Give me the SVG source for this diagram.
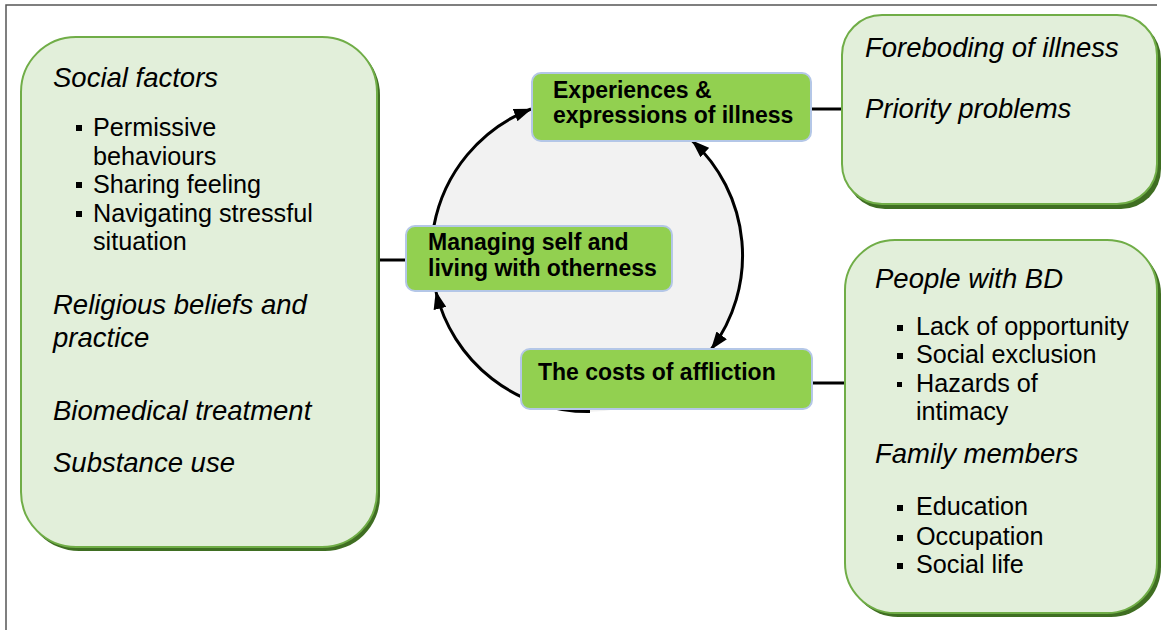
<svg xmlns="http://www.w3.org/2000/svg" width="1161" height="630" viewBox="0 0 1161 630">
<style>
.big{fill:#e2efda;stroke:#70ad47;stroke-width:2}
.shadow{fill:#3f6e22}
.node{fill:#92d050;stroke:#b4c7e7;stroke-width:2}
.hd{font-family:"Liberation Sans",Arial,sans-serif;font-style:italic;font-size:27.5px;fill:#000}
.it{font-family:"Liberation Sans",Arial,sans-serif;font-size:25.2px;fill:#000}
.bd{font-family:"Liberation Sans",Arial,sans-serif;font-weight:bold;font-size:23px;fill:#000}
.bul{fill:#000}
.link{stroke:#000;stroke-width:3;fill:none}
.arc{stroke:#000;stroke-width:3;fill:none}
</style>
<defs>
<marker id="ah" viewBox="0 0 18 13" refX="17" refY="6.5" markerWidth="18" markerHeight="13" markerUnits="userSpaceOnUse" orient="auto-start-reverse">
<path d="M0,0 L18,6.5 L0,13 Z" fill="#000"/>
</marker>
</defs>
<rect width="1161" height="630" fill="#fff"/>
<path d="M6,630 L6,5 L1157,5" fill="none" stroke="#555" stroke-width="1.5"/>

<g id="cycle">
<circle cx="587" cy="256" r="156" fill="#f2f2f2"/>
</g>

<g id="connectors">
<line class="link" x1="377" y1="260" x2="406" y2="260"/>
<line class="link" x1="811" y1="109" x2="842" y2="109"/>
<line class="link" x1="812" y1="383" x2="845" y2="383"/>
<path class="arc" d="M433.9,226 A156,156 0 0,1 531,109" marker-end="url(#ah)"/>
<path class="arc" d="M692.4,141 A156,156 0 0,1 711.5,349" marker-start="url(#ah)" marker-end="url(#ah)"/>
<path class="arc" d="M590,411.5 A156,156 0 0,1 436,292" marker-end="url(#ah)"/>
</g>

<g id="left-box">
<rect class="shadow" x="24" y="40" width="356" height="511" rx="55"/>
<rect class="big" x="21" y="37" width="356" height="510" rx="55"/>
<text class="hd" x="53" y="87">Social factors</text>
<rect class="bul" x="76" y="125" width="6" height="6"/>
<text class="it" x="93" y="136">Permissive</text>
<text class="it" x="93" y="165">behaviours</text>
<rect class="bul" x="76" y="182" width="6" height="6"/>
<text class="it" x="93" y="193">Sharing feeling</text>
<rect class="bul" x="76" y="211" width="6" height="6"/>
<text class="it" x="93" y="222">Navigating stressful</text>
<text class="it" x="93" y="250">situation</text>
<text class="hd" x="53" y="314">Religious beliefs and</text>
<text class="hd" x="53" y="347">practice</text>
<text class="hd" x="53" y="420">Biomedical treatment</text>
<text class="hd" x="53" y="472">Substance use</text>
</g>

<g id="top-right-box">
<rect class="shadow" x="845" y="19" width="316" height="190" rx="40"/>
<rect class="big" x="842" y="15" width="315" height="189" rx="40"/>
<text class="hd" x="865" y="57">Foreboding of illness</text>
<text class="hd" x="865" y="118">Priority problems</text>
</g>

<g id="bottom-right-box">
<rect class="shadow" x="848" y="244" width="313" height="373" rx="50"/>
<rect class="big" x="845" y="240" width="312" height="373" rx="50"/>
<text class="hd" x="875" y="288">People with BD</text>
<rect class="bul" x="897" y="325" width="6" height="6"/>
<text class="it" x="916" y="335">Lack of opportunity</text>
<rect class="bul" x="897" y="353" width="6" height="6"/>
<text class="it" x="916" y="363">Social exclusion</text>
<rect class="bul" x="897" y="382" width="5" height="5"/>
<text class="it" x="916" y="392">Hazards of</text>
<text class="it" x="916" y="420">intimacy</text>
<text class="hd" x="875" y="463">Family members</text>
<rect class="bul" x="897" y="505" width="6" height="6"/>
<text class="it" x="916" y="515">Education</text>
<rect class="bul" x="897" y="535" width="6" height="6"/>
<text class="it" x="916" y="545">Occupation</text>
<rect class="bul" x="897" y="563" width="6" height="6"/>
<text class="it" x="916" y="573">Social life</text>
</g>

<g id="experiences">
<rect class="node" x="532" y="73" width="279" height="68" rx="9"/>
<text class="bd" x="553" y="98">Experiences &amp;</text>
<text class="bd" x="553" y="123">expressions of illness</text>
</g>

<g id="managing">
<rect class="node" x="406" y="226" width="266" height="65" rx="9"/>
<text class="bd" x="428" y="250">Managing self and</text>
<text class="bd" x="428" y="276">living with otherness</text>
</g>

<g id="costs">
<rect class="node" x="521" y="349" width="291" height="60" rx="9"/>
<text class="bd" x="538" y="380">The costs of affliction</text>
</g>
</svg>
